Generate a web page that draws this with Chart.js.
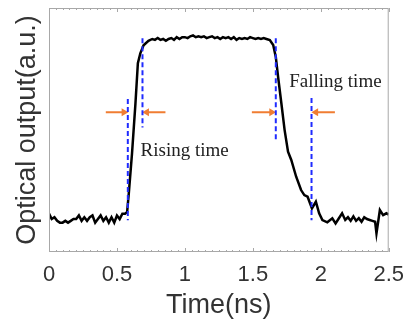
<!DOCTYPE html>
<html lang="en">
<head>
    <meta charset="UTF-8">
    <title>Optical output vs time</title>
    <style>
        body {
            margin: 0;
            padding: 0;
            background: #fff;
        }
        #plot {
            display: block;
        }
    </style>
</head>
<body>
    <canvas id="plot" width="414" height="322"></canvas>

    <script src="https://cdn.jsdelivr.net/npm/chart.js"></script>
    <script>
        // measured trace (time in ns, output normalised: baseline 0, plateau 1)
        const timeNs = [
            0.00, 0.02, 0.04, 0.06, 0.08, 0.10, 0.12, 0.14, 0.16, 0.18,
            0.20, 0.22, 0.24, 0.26, 0.28, 0.30, 0.32, 0.34, 0.36, 0.38,
            0.40, 0.42, 0.44, 0.46, 0.48, 0.50, 0.52, 0.54, 0.56,
            0.575, 0.587, 0.611, 0.636, 0.654, 0.672, 0.696, 0.732, 0.76,
            0.78, 0.80, 0.82, 0.84, 0.86, 0.88, 0.90, 0.92, 0.94, 0.96,
            0.98, 1.00, 1.02, 1.04, 1.06, 1.08, 1.10, 1.12, 1.14, 1.16,
            1.18, 1.20, 1.22, 1.24, 1.26, 1.28, 1.30, 1.32, 1.34, 1.36,
            1.38, 1.40, 1.42, 1.44, 1.46, 1.48, 1.50, 1.52, 1.54, 1.56,
            1.58, 1.60, 1.625, 1.65, 1.669, 1.686, 1.71, 1.734, 1.759, 1.783,
            1.819, 1.855, 1.879, 1.903, 1.935, 1.964, 1.988, 2.012, 2.048, 2.085,
            2.109, 2.13, 2.157, 2.18, 2.20, 2.22, 2.24, 2.26, 2.28, 2.30,
            2.32, 2.34, 2.36, 2.38, 2.40, 2.41, 2.435, 2.459, 2.483, 2.50
        ];
        const optical = [
            0.03, 0.00, 0.01, -0.01, -0.02, -0.02, -0.01, -0.02, -0.01, 0.00,
            0.00, 0.02, -0.01, 0.01, -0.01, 0.01, 0.02, -0.02, 0.00, 0.02,
            -0.01, 0.01, -0.02, 0.01, -0.02, 0.02, 0.00, 0.03, 0.03,
            0.04, 0.14, 0.365, 0.64, 0.865, 0.92, 0.965, 0.99, 1.00,
            0.995, 1.005, 0.995, 1.00, 0.99, 1.00, 1.005, 0.995, 1.01, 1.00,
            1.01, 1.01, 1.005, 1.015, 1.02, 1.01, 1.015, 1.01, 1.015, 1.005,
            1.01, 1.015, 1.005, 1.01, 1.00, 1.01, 1.005, 1.01, 1.00, 1.01,
            0.995, 1.005, 1.00, 1.005, 1.00, 1.01, 1.005, 1.00, 1.005, 1.00,
            1.005, 1.00, 0.994, 0.967, 0.90, 0.79, 0.643, 0.494, 0.374, 0.328,
            0.235, 0.161, 0.133, 0.124, 0.059, 0.096, 0.032, -0.006, -0.018, 0.004,
            -0.024, 0.00, 0.032, -0.005, 0.01, -0.01, 0.015, -0.01, 0.005, -0.015,
            0.01, 0.00, -0.005, -0.01, -0.015, -0.08, 0.05, 0.022, 0.032, 0.025
        ];

        // x tick labels and minor tick marks
        const majorTicks = [0, 0.5, 1, 1.5, 2, 2.5];
        const majorLabels = ['0', '0.5', '1', '1.5', '2', '2.5'];
        const minorStep = 0.05;

        // dashed markers: [time, yTop, yBottom]
        const markerTimes = [0.58, 0.688, 1.669, 1.932];
        const markerTop = [0.667, 1.004, 1.004, 0.672];
        const markerBottom = [-0.006, 0.509, 0.433, -0.006];

        // arrows: tail time -> head time, all at the same level
        const arrowLevel = 0.593;
        const arrowTail = [0.418, 0.857, 1.493, 2.104];
        const arrowHead = [0.551, 0.719, 1.638, 1.964];

        // text notes
        const noteText = ['Rising time', 'Falling time'];
        const noteX = [0.674, 1.768];
        const noteY = [0.35, 0.733];

        const sansFont = '"Liberation Sans", Arial, sans-serif';
        const frameColor = '#a8a8a8';

        const datasets = [];
        markerTimes.forEach((t, i) => {
            datasets.push({
                data: [{ x: t, y: markerTop[i] }, { x: t, y: markerBottom[i] }],
                borderColor: '#1f2bff',
                borderWidth: 2,
                borderDash: [5, 3],
                pointRadius: 0,
                order: 0
            });
        });
        arrowTail.forEach((t, i) => {
            const pointsRight = arrowHead[i] > t;
            datasets.push({
                data: [{ x: t, y: arrowLevel }, { x: arrowHead[i], y: arrowLevel }],
                borderColor: '#f07d32',
                backgroundColor: '#f07d32',
                borderWidth: 2,
                pointStyle: 'triangle',
                pointRotation: pointsRight ? 90 : -90,
                pointRadius: [0, 4.5],
                pointBorderWidth: 0,
                order: 0
            });
        });
        datasets.push({
            data: timeNs.map((t, i) => ({ x: t, y: optical[i] })),
            borderColor: '#000',
            borderWidth: 2.5,
            pointRadius: 0,
            tension: 0,
            order: 1
        });

        // frame box, inward tick marks on top/bottom, and the text notes
        const framePlugin = {
            id: 'frame',
            afterDraw(chart) {
                const ctx = chart.ctx;
                const area = chart.chartArea;
                const xs = chart.scales.x;
                const ys = chart.scales.y;
                ctx.save();
                ctx.strokeStyle = frameColor;
                ctx.lineWidth = 1;
                ctx.strokeRect(area.left + 0.5, area.top + 0.5, area.right - area.left - 1, area.bottom - area.top - 1);

                ctx.beginPath();
                for (let k = 0; k <= 50; k++) {
                    const v = k * minorStep;
                    const px = Math.round(xs.getPixelForValue(v)) + 0.5;
                    const len = (k % 10 === 0) ? 4 : 2;
                    ctx.moveTo(px, area.bottom);
                    ctx.lineTo(px, area.bottom - len);
                    ctx.moveTo(px, area.top);
                    ctx.lineTo(px, area.top + len);
                }
                ctx.stroke();

                ctx.fillStyle = '#222';
                ctx.font = '19px "Liberation Serif", "Times New Roman", serif';
                ctx.textAlign = 'left';
                ctx.textBaseline = 'alphabetic';
                noteText.forEach((txt, i) => {
                    ctx.fillText(txt, xs.getPixelForValue(noteX[i]), ys.getPixelForValue(noteY[i]));
                });
                ctx.restore();
            }
        };

        new Chart(document.getElementById('plot').getContext('2d'), {
            type: 'line',
            data: { datasets: datasets },
            plugins: [framePlugin],
            options: {
                responsive: false,
                animation: false,
                devicePixelRatio: 1,
                layout: { padding: { top: 8, right: 21, left: 0, bottom: 0 } },
                plugins: {
                    legend: { display: false },
                    tooltip: { enabled: false }
                },
                scales: {
                    x: {
                        type: 'linear',
                        position: 'bottom',
                        min: 0,
                        max: 2.5,
                        afterBuildTicks: (scale) => {
                            scale.ticks = majorTicks.map(v => ({ value: v }));
                        },
                        afterFit: (scale) => { scale.height = 70; },
                        ticks: {
                            color: '#333',
                            font: { family: sansFont, size: 22 },
                            padding: 10,
                            maxRotation: 0,
                            autoSkip: false,
                            callback: (value) => majorLabels[majorTicks.indexOf(value)]
                        },
                        grid: { display: false, drawTicks: false },
                        border: { display: false },
                        title: {
                            display: true,
                            text: 'Time(ns)',
                            color: '#333',
                            font: { family: sansFont, size: 27 },
                            padding: 0
                        }
                    },
                    y: {
                        min: -0.183,
                        max: 1.172,
                        afterFit: (scale) => { scale.width = 49; },
                        ticks: { display: false },
                        grid: { display: false, drawTicks: false },
                        border: { display: false },
                        title: {
                            display: true,
                            text: 'Optical output(a.u.)',
                            color: '#333',
                            font: { family: sansFont, size: 27 },
                            padding: { top: 11, bottom: 0 }
                        }
                    }
                }
            }
        });
    </script>
</body>
</html>
